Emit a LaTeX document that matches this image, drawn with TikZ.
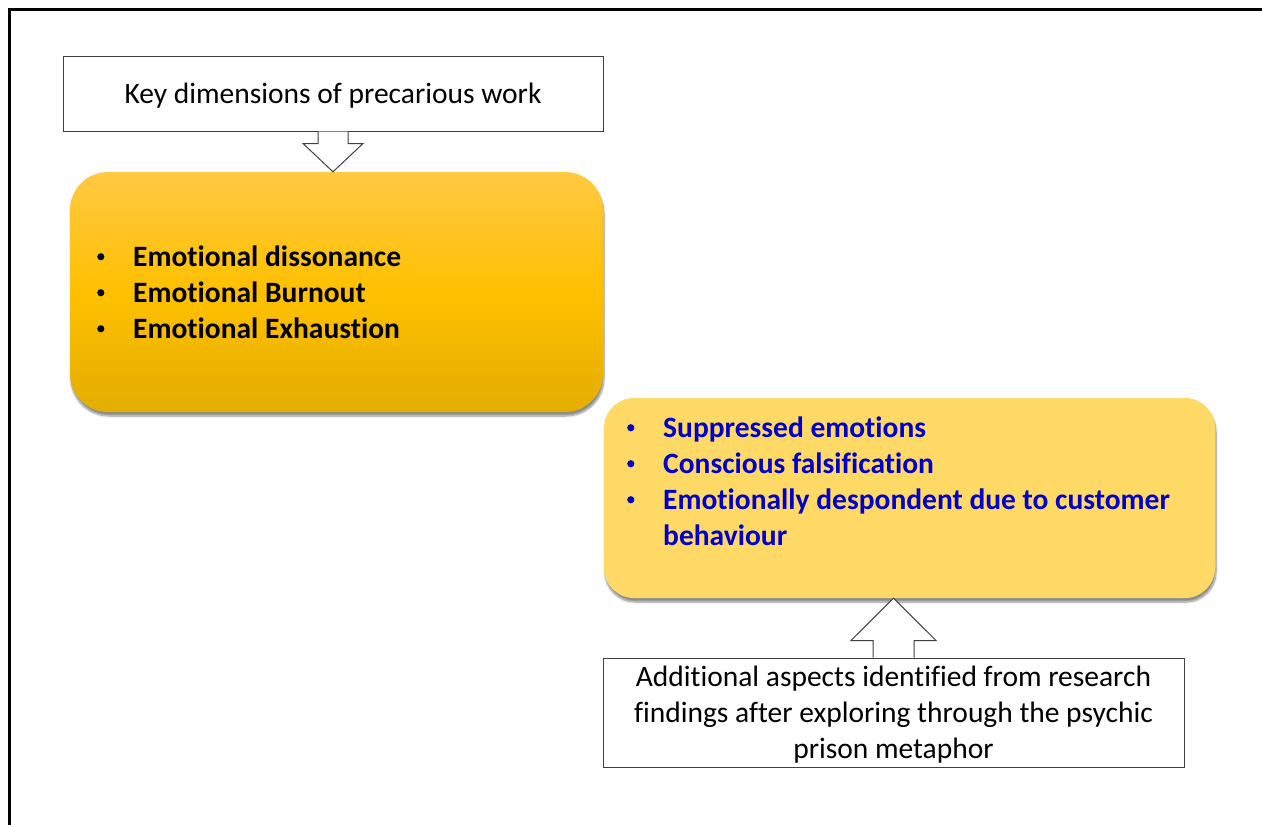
\documentclass[tikz,border=0pt]{standalone}
\usepackage{fontspec}
\setmainfont{Carlito}[Ligatures={NoCommon}]
\usetikzlibrary{calc,shadows.blur}
\definecolor{goldtop}{HTML}{FFC942}
\definecolor{goldmid}{HTML}{FFC000}
\definecolor{goldbot}{HTML}{E3AE00}
\definecolor{paleyellow}{HTML}{FFD966}
\definecolor{itemblue}{RGB}{0,0,200}
\definecolor{edgegray}{HTML}{404040}
\tikzset{
  labelbox/.style={draw=edgegray, line width=1pt, fill=white, inner sep=0pt,
    font=\fontsize{29.5}{36}\selectfont, align=center},
  goldbox/.style={rounded corners=38pt, inner sep=0pt, top color=goldtop,
    bottom color=goldbot, middle color=goldmid,
    blur shadow={shadow xshift=1pt, shadow yshift=-4pt, shadow blur steps=8, shadow opacity=45}},
  palebox/.style={rounded corners=30pt, inner sep=0pt, fill=paleyellow,
    blur shadow={shadow xshift=1pt, shadow yshift=-4pt, shadow blur steps=8, shadow opacity=45}},
  listtext/.style={anchor=west, inner sep=0pt, align=left,
    font=\fontsize{29.5}{36}\selectfont\bfseries},
  blockarrow/.style={draw=edgegray, line width=1pt, fill=white, line join=miter},
}
\newcommand{\itemdot}{\raisebox{0.2em}{\tikz\fill (0,0) circle (3.6pt);}}
\newcommand{\bulletrow}[1]{\makebox[33pt][l]{\hspace{-3pt}\itemdot}#1}
\begin{document}
\begin{tikzpicture}[x=1pt,y=-1pt]
\useasboundingbox (0,0) rectangle (1262,825);
% outer frame
\draw[line width=3pt] (1262,9.5) -- (9,9.5) -- (9,825);

% boxes
\node[labelbox, minimum width=540pt, minimum height=75pt] (kd) at (333,93.5) {};
\node (kdtext) at (333,95.5) [font=\fontsize{29.5}{36}\selectfont, inner sep=0pt]
  {Key dimensions of precarious work};
\node[goldbox, minimum width=533pt, minimum height=240pt] (em) at (336.5,292) {};
\node[listtext] (emlist) at (100,292) {%
  \bulletrow{Emotional dissonance}\\
  \bulletrow{Emotional Burnout}\\
  \bulletrow{Emotional Exhaustion}};

\node[palebox, minimum width=611pt, minimum height=200pt] (sup) at (909.5,498) {};
\node[listtext, text=itemblue] (suplist) at (630,481) {%
  \bulletrow{Suppressed emotions}\\
  \bulletrow{Conscious falsification}\\
  \bulletrow{Emotionally despondent due to customer}\\
  \makebox[33pt][l]{}behaviour};

\node[labelbox, minimum width=581pt, minimum height=109pt] (add) at (893.5,712.5) {};
\node[inner sep=0pt, align=center, font=\fontsize{29.5}{36}\selectfont] (addtext) at (893.5,714.5)
  {Additional aspects identified from research\\
   findings after exploring through the psychic\\
   prison metaphor};

% block arrow from the dimensions label down to the gold box
\draw[blockarrow]
  ($(kd.south)+(-15,0)$) -- ($(kd.south)+(-15,12)$) -- ($(kd.south)+(-30,12)$)
  -- (kd.south |- em.north)
  -- ($(kd.south)+(30,12)$) -- ($(kd.south)+(15,12)$) -- ($(kd.south)+(15,0)$);

% block arrow from the findings label up to the pale box
\draw[blockarrow]
  ($(add.north)+(-20.5,0)$) -- ($(add.north)+(-20.5,-17)$) -- ($(add.north)+(-42.5,-17)$)
  -- (add.north |- sup.south)
  -- ($(add.north)+(42.5,-17)$) -- ($(add.north)+(20.5,-17)$) -- ($(add.north)+(20.5,0)$);
\end{tikzpicture}
\end{document}
